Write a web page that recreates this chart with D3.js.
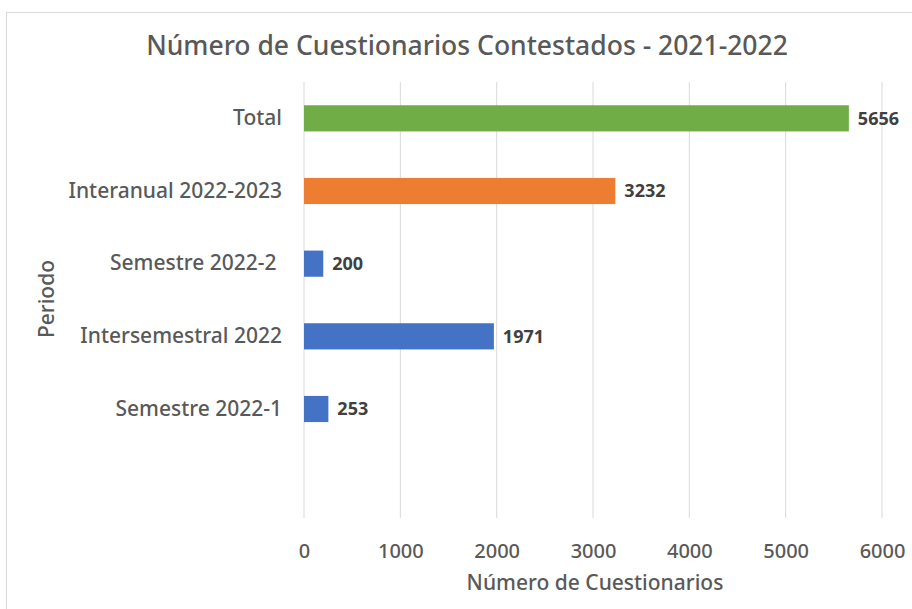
<!DOCTYPE html>
<html>
<head>
<meta charset="utf-8">
<script src="https://cdn.jsdelivr.net/npm/d3@7"></script>
<style>
  body { margin: 0; background: #fff; }
  text { font-family: "Noto Sans", "Open Sans", sans-serif; white-space: pre; }
</style>
</head>
<body>
<div id="chart"></div>
<script>
const categories = ['Total', 'Interanual 2022-2023', 'Semestre 2022-2 ', 'Intersemestral 2022', 'Semestre 2022-1', ''];
const values = [5656, 3232, 200, 1971, 253, null];
const barColors = ['#70ad47', '#ed7d31', '#4472c4', '#4472c4', '#4472c4', '#4472c4'];
const xTicks = [0, 1000, 2000, 3000, 4000, 5000, 6000];

const width = 912, height = 609;
const margin = { top: 82, right: 30, bottom: 91, left: 304 };

const svg = d3.select('#chart')
  .append('svg')
  .attr('width', width)
  .attr('height', height);

// chart frame
svg.append('rect')
  .attr('x', 6.5).attr('y', 12.5)
  .attr('width', width).attr('height', height)
  .attr('fill', '#fff')
  .attr('stroke', '#d9d9d9');

let x = d3.scaleLinear()
  .domain([0, 6000])
  .range([margin.left, width - margin.right]);

let y = d3.scaleBand()
  .domain(categories)
  .range([margin.top, height - margin.bottom])
  .paddingInner(0.64)
  .paddingOuter(0.32);

// gridlines
svg.append('g')
  .selectAll('line')
  .data(xTicks)
  .join('line')
  .attr('x1', d => x(d)).attr('x2', d => x(d))
  .attr('y1', margin.top).attr('y2', height - margin.bottom)
  .attr('stroke', '#d9d9d9')
  .attr('stroke-width', 1);

let xAxis = g => g
  .attr('transform', `translate(0,${height - margin.bottom + 23})`)
  .call(d3.axisBottom(x).tickValues(xTicks).tickSize(0).tickFormat(d3.format('d')))
  .call(g => g.select('.domain').remove())
  .call(g => g.selectAll('text')
    .attr('fill', '#595959')
    .style('font-size', '20px')
    .style('font-weight', 500));

svg.append('g').call(xAxis);

let yAxis = g => g
  .attr('transform', `translate(${margin.left - 19},0)`)
  .call(d3.axisLeft(y).tickSize(0))
  .call(g => g.select('.domain').remove())
  .call(g => g.selectAll('text')
    .attr('fill', '#595959')
    .style('font-size', '21px')
    .style('font-weight', 500));

svg.append('g').call(yAxis);

const rows = categories.map((c, i) => ({ cat: c, value: values[i], color: barColors[i] }))
  .filter(d => d.value != null);

svg.append('g')
  .selectAll('rect')
  .data(rows)
  .join('rect')
  .attr('x', x(0))
  .attr('y', d => y(d.cat))
  .attr('width', d => x(d.value) - x(0))
  .attr('height', y.bandwidth())
  .attr('fill', d => d.color);

svg.append('g')
  .selectAll('text')
  .data(rows)
  .join('text')
  .attr('x', d => x(d.value) + 9)
  .attr('y', d => y(d.cat) + y.bandwidth() / 2)
  .attr('dy', '0.36em')
  .attr('fill', '#404040')
  .style('font-size', '18px')
  .style('font-weight', 'bold')
  .text(d => d.value);

// title
svg.append('text')
  .attr('x', 467)
  .attr('y', 55)
  .attr('text-anchor', 'middle')
  .attr('fill', '#595959')
  .style('font-size', '26.5px')
  .style('font-weight', 500)
  .text('Número de Cuestionarios Contestados - 2021-2022');

svg.append('text')
  .attr('x', 595)
  .attr('y', 590)
  .attr('text-anchor', 'middle')
  .attr('fill', '#595959')
  .style('font-size', '21px')
  .style('font-weight', 500)
  .text('Número de Cuestionarios');

svg.append('text')
  .attr('transform', 'rotate(-90)')
  .attr('x', -299)
  .attr('y', 54)
  .attr('text-anchor', 'middle')
  .attr('fill', '#595959')
  .style('font-size', '21px')
  .style('font-weight', 500)
  .text('Periodo');
</script>
</body>
</html>
